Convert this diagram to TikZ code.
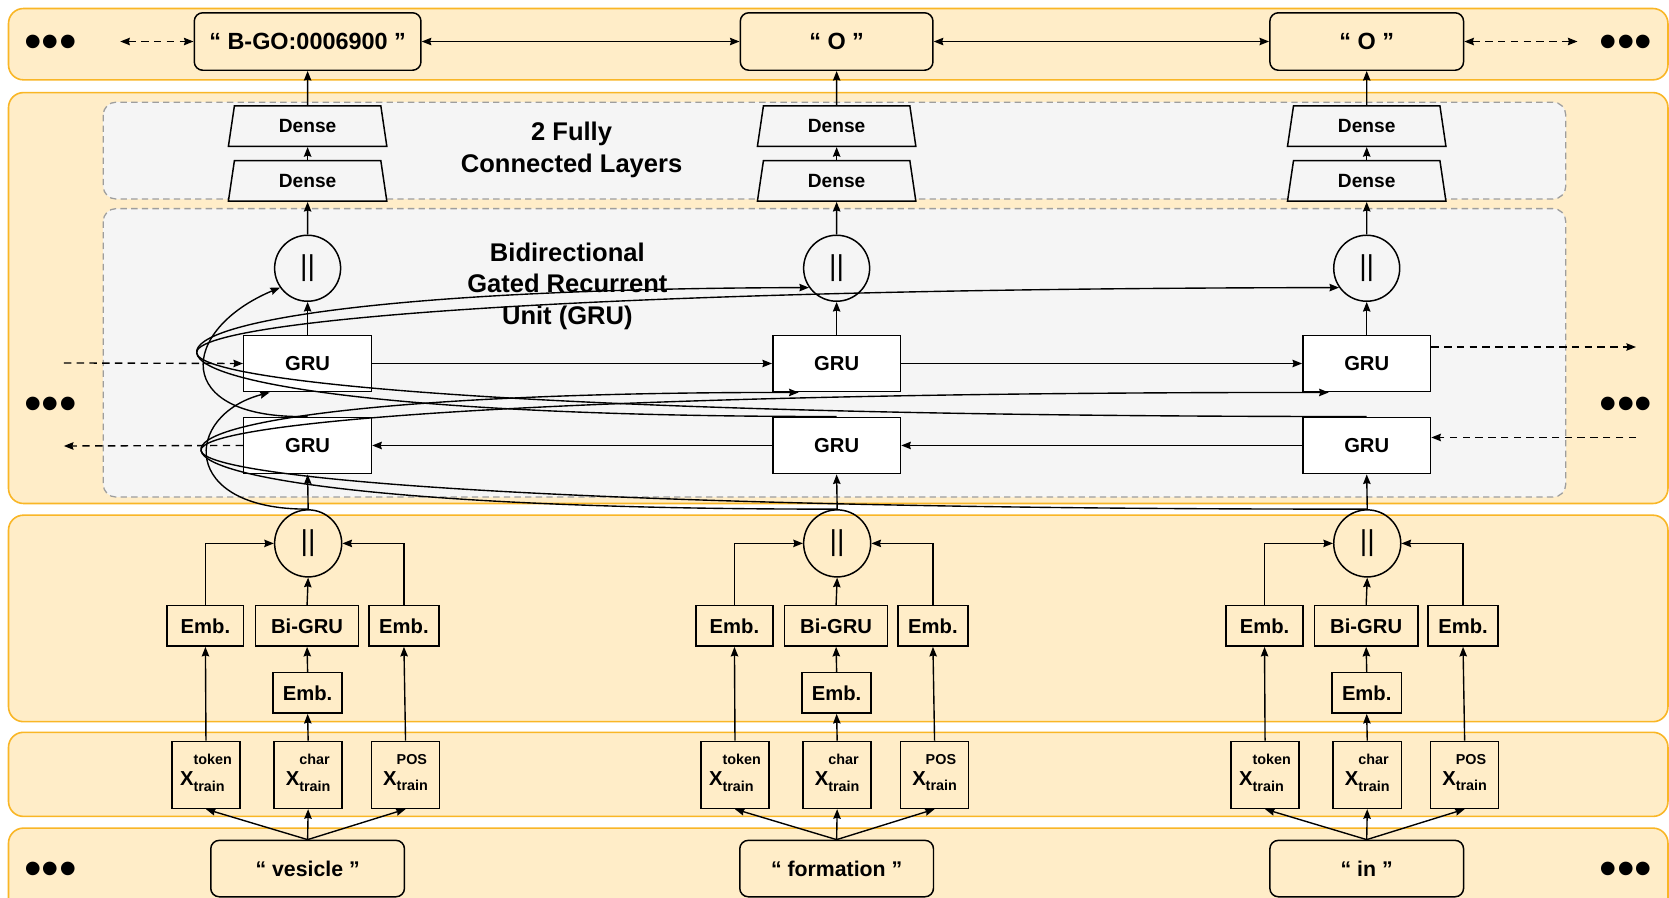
\documentclass[tikz,border=0pt]{standalone}
\usepackage{fontspec}
\setmainfont{Liberation Sans}
\usepackage{tikz}
\usetikzlibrary{arrows.meta,shapes.geometric}

\definecolor{bandfill}{HTML}{FFEDC8}
\definecolor{bandline}{HTML}{F9B626}
\definecolor{panelfill}{HTML}{F5F5F5}
\definecolor{panelline}{HTML}{9E9E9E}

\newcommand{\xvar}[1]{{\fontsize{19}{19}\selectfont X}\raisebox{-5.3pt}{\fontsize{13.5}{13.5}\selectfont
    \begin{tabular}[b]{@{}l@{}}#1\\[10.8pt]train\end{tabular}}}

\tikzset{
    >={Stealth[length=9pt,width=7pt,inset=1pt]},
    band/.style={draw=bandline, fill=bandfill, line width=1.5pt, rounded corners=14pt},
    panel/.style={draw=panelline, fill=panelfill, line width=1.2pt, dash pattern=on 6pt off 4pt, rounded corners=12pt},
    word/.style={draw, fill=bandfill, rounded corners=8pt, line width=1.4pt, minimum height=54pt, inner sep=0pt, font=\fontsize{22}{24}\selectfont\bfseries},
    dense/.style={draw, fill=panelfill, trapezium, trapezium angle=80, trapezium stretches=true, minimum width=149pt, minimum height=38pt, inner sep=0pt, line width=1.4pt, font=\fontsize{18}{20}\selectfont\bfseries},
    gru/.style={draw, fill=white, minimum width=120pt, minimum height=53pt, line width=1.4pt, font=\fontsize{19}{22}\selectfont\bfseries},
    cat/.style={draw, circle, minimum size=62pt, inner sep=0pt, line width=1.4pt, font=\fontsize{27}{27}\selectfont},
    emb/.style={draw, minimum height=38pt, inner sep=0pt, line width=1.4pt, font=\fontsize{19}{22}\selectfont\bfseries},
    xin/.style={draw, minimum width=64pt, minimum height=63pt, inner sep=0pt, line width=1.4pt, font=\bfseries},
    dots/.style={anchor=base, font=\fontsize{47}{47}\selectfont},
    note/.style={align=center, font=\fontsize{24}{30}\selectfont\bfseries},
    conn/.style={->, line width=1.3pt},
    dline/.style={conn, dash pattern=on 7pt off 5pt},
    dconn/.style={<->, line width=1.3pt, dash pattern=on 7pt off 5pt},
}

\begin{document}
\begin{tikzpicture}[x=1pt, y=-1pt]
    \clip (0,0) rectangle (1568,843);

    % bands and panels
    \draw[band] (8,8) rectangle (1567,75);
    \draw[band] (8,87) rectangle (1567,473);
    \draw[band] (8,484) rectangle (1567,678);
    \draw[band] (8,688) rectangle (1567,767);
    \draw[band] (8,778) rectangle (1567,880);
    \draw[panel] (97,96) rectangle (1471,187);
    \draw[panel] (97,196) rectangle (1471,467);

    \node[dots] (dl1) at (47.5,55) {•••};
    \node[dots] (dl2) at (47.5,395) {•••};
    \node[dots] (dl3) at (47.5,832) {•••};
    \node[dots] (dr1) at (1527.5,55) {•••};
    \node[dots] (dr2) at (1527.5,395) {•••};
    \node[dots] (dr3) at (1527.5,832) {•••};

    \node[note] (fcl) at (537,141) {2 Fully\\Connected Layers};
    \node[note] (bgl) at (533,269) {Bidirectional\\Gated Recurrent\\Unit (GRU)};

    % column 1
    \node[word, minimum width=213pt] (lab1) at (289,39) {“ B-GO:0006900 ”};
    \node[dense] (da1) at (289,118.5) {Dense};
    \node[dense] (db1) at (289,170) {Dense};
    \node[cat, fill=panelfill] (cat1) at (289,252) {||};
    \node[gru] (gf1) at (289,341.5) {GRU};
    \node[gru] (gb1) at (289,418.5) {GRU};
    \node[cat, minimum size=63pt] (cin1) at (289.5,510.5) {||};
    \node[emb, minimum width=72pt] (embt1) at (193,588) {Emb.};
    \node[emb, minimum width=97pt] (bigru1) at (288.5,588) {Bi-GRU};
    \node[emb, minimum width=66pt] (embp1) at (379.5,588) {Emb.};
    \node[emb, minimum width=65pt] (embc1) at (289,651) {Emb.};
    \node[xin] (xt1) at (193.5,728) {\xvar{token}};
    \node[xin] (xc1) at (289.5,728) {\xvar{char}};
    \node[xin] (xp1) at (381,728) {\xvar{POS}};
    \node[word, minimum width=182pt, minimum height=53pt, font=\fontsize{20}{24}\selectfont\bfseries] (w1) at (289,816) {“ vesicle ”};

    % column 2
    \node[word, minimum width=181pt] (lab2) at (786,39) {“ O ”};
    \node[dense] (da2) at (786,118.5) {Dense};
    \node[dense] (db2) at (786,170) {Dense};
    \node[cat, fill=panelfill] (cat2) at (786,252) {||};
    \node[gru] (gf2) at (786,341.5) {GRU};
    \node[gru] (gb2) at (786,418.5) {GRU};
    \node[cat, minimum size=63pt] (cin2) at (786.5,510.5) {||};
    \node[emb, minimum width=72pt] (embt2) at (690,588) {Emb.};
    \node[emb, minimum width=97pt] (bigru2) at (785.5,588) {Bi-GRU};
    \node[emb, minimum width=66pt] (embp2) at (876.5,588) {Emb.};
    \node[emb, minimum width=65pt] (embc2) at (786,651) {Emb.};
    \node[xin] (xt2) at (690.5,728) {\xvar{token}};
    \node[xin] (xc2) at (786.5,728) {\xvar{char}};
    \node[xin] (xp2) at (878,728) {\xvar{POS}};
    \node[word, minimum width=182pt, minimum height=53pt, font=\fontsize{20}{24}\selectfont\bfseries] (w2) at (786,816) {“ formation ”};

    % column 3
    \node[word, minimum width=182pt] (lab3) at (1284,39) {“ O ”};
    \node[dense] (da3) at (1284,118.5) {Dense};
    \node[dense] (db3) at (1284,170) {Dense};
    \node[cat, fill=panelfill] (cat3) at (1284,252) {||};
    \node[gru] (gf3) at (1284,341.5) {GRU};
    \node[gru] (gb3) at (1284,418.5) {GRU};
    \node[cat, minimum size=63pt] (cin3) at (1284.5,510.5) {||};
    \node[emb, minimum width=72pt] (embt3) at (1188,588) {Emb.};
    \node[emb, minimum width=97pt] (bigru3) at (1283.5,588) {Bi-GRU};
    \node[emb, minimum width=66pt] (embp3) at (1374.5,588) {Emb.};
    \node[emb, minimum width=65pt] (embc3) at (1284,651) {Emb.};
    \node[xin] (xt3) at (1188.5,728) {\xvar{token}};
    \node[xin] (xc3) at (1284.5,728) {\xvar{char}};
    \node[xin] (xp3) at (1376,728) {\xvar{POS}};
    \node[word, minimum width=182pt, minimum height=53pt, font=\fontsize{20}{24}\selectfont\bfseries] (w3) at (1284,816) {“ in ”};

    % free ends
    \coordinate (tl) at (113,39);
    \coordinate (tr) at (1482,39);
    \coordinate (lin) at (60,341);
    \coordinate (lout) at (60,419);
    \coordinate (rout) at (1537,326);
    \coordinate (rin) at (1537,411);

    % top row
    \draw[dconn] (tl) -- (lab1.west);
    \draw[<->, line width=1.3pt] (lab1.east) -- (lab2.west);
    \draw[<->, line width=1.3pt] (lab2.east) -- (lab3.west);
    \draw[dconn] (lab3.east) -- (tr);

    % recurrent chain
    \draw[dline] (lin) -- (gf1.west);
    \draw[conn] (gf1.east) -- (gf2.west);
    \draw[conn] (gf2.east) -- (gf3.west);
    \draw[dline] (gf3.east |- rout) -- (rout);
    \draw[dline] (rin) -- (rin -| gb3.east);
    \draw[conn] (gb3.west) -- (gb2.east);
    \draw[conn] (gb2.west) -- (gb1.east);
    \draw[dline] (gb1.west) -- (lout);

    % columns
    \draw[conn] (w1.north) -- (xt1.south);
    \draw[conn] (w1.north) -- (xc1.south);
    \draw[conn] (w1.north) -- (xp1.south);
    \draw[conn] (xt1.north) -- (embt1.south);
    \draw[conn] (xc1.north) -- (embc1.south);
    \draw[conn] (xp1.north) -- (embp1.south);
    \draw[conn] (embc1.north) -- (bigru1.south);
    \draw[conn] (embt1.north) |- (cin1.west);
    \draw[conn] (bigru1.north) -- (cin1.south);
    \draw[conn] (embp1.north) |- (cin1.east);
    \draw[conn] (cin1.north) -- (gb1.south);
    \draw[conn] (gf1.north) -- (cat1.south);
    \draw[conn] (cat1.north) -- (db1.south);
    \draw[conn] (db1.north) -- (da1.south);
    \draw[conn] (da1.north) -- (lab1.south);

    \draw[conn] (w2.north) -- (xt2.south);
    \draw[conn] (w2.north) -- (xc2.south);
    \draw[conn] (w2.north) -- (xp2.south);
    \draw[conn] (xt2.north) -- (embt2.south);
    \draw[conn] (xc2.north) -- (embc2.south);
    \draw[conn] (xp2.north) -- (embp2.south);
    \draw[conn] (embc2.north) -- (bigru2.south);
    \draw[conn] (embt2.north) |- (cin2.west);
    \draw[conn] (bigru2.north) -- (cin2.south);
    \draw[conn] (embp2.north) |- (cin2.east);
    \draw[conn] (cin2.north) -- (gb2.south);
    \draw[conn] (gf2.north) -- (cat2.south);
    \draw[conn] (cat2.north) -- (db2.south);
    \draw[conn] (db2.north) -- (da2.south);
    \draw[conn] (da2.north) -- (lab2.south);

    \draw[conn] (w3.north) -- (xt3.south);
    \draw[conn] (w3.north) -- (xc3.south);
    \draw[conn] (w3.north) -- (xp3.south);
    \draw[conn] (xt3.north) -- (embt3.south);
    \draw[conn] (xc3.north) -- (embc3.south);
    \draw[conn] (xp3.north) -- (embp3.south);
    \draw[conn] (embc3.north) -- (bigru3.south);
    \draw[conn] (embt3.north) |- (cin3.west);
    \draw[conn] (bigru3.north) -- (cin3.south);
    \draw[conn] (embp3.north) |- (cin3.east);
    \draw[conn] (cin3.north) -- (gb3.south);
    \draw[conn] (gf3.north) -- (cat3.south);
    \draw[conn] (cat3.north) -- (db3.south);
    \draw[conn] (db3.north) -- (da3.south);
    \draw[conn] (da3.north) -- (lab3.south);

    % curved links round the left
    \draw[conn] (gb1.north) .. controls (160,394) and (168,310) .. (cat1.215);
    \draw[conn] (cin1.north) .. controls (168,479) and (172,390) .. ([xshift=25pt]gf1.south west);
    \draw[conn] (gb2.north) .. controls (-10,392) and (-10,272) .. (cat2.215);
    \draw[conn] (gb3.north) .. controls (-176,392) and (-176,272) .. (cat3.215);
    \draw[conn] (cin2.north) .. controls (-3,479) and (-3,368) .. ([xshift=25pt]gf2.south west);
    \draw[conn] (cin3.north) .. controls (-169,479) and (-169,368) .. ([xshift=25pt]gf3.south west);
\end{tikzpicture}
\end{document}
